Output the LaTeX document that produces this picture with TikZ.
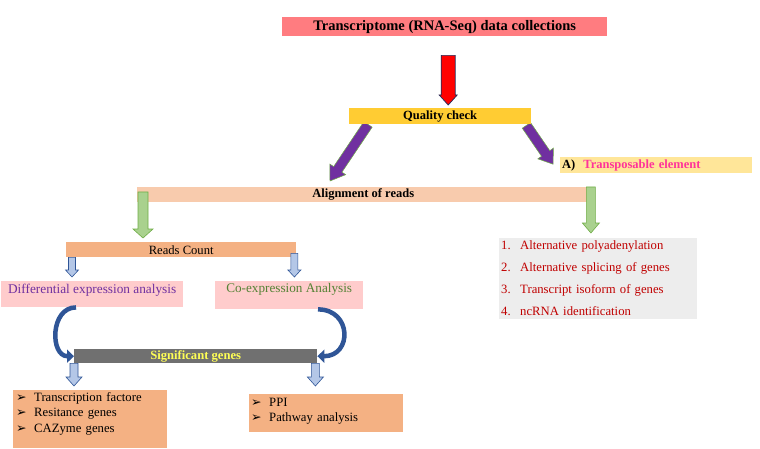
\documentclass[tikz,border=0pt]{standalone}
\usepackage{fontspec}
\setmainfont{Liberation Serif}
\newfontfamily\dingfont{DejaVu Sans}
\usetikzlibrary{arrows.meta,positioning,calc,backgrounds}

\definecolor{titlered}{HTML}{FF7C80}
\definecolor{qcyellow}{HTML}{FFCC33}
\definecolor{teyellow}{HTML}{FFE699}
\definecolor{tepink}{HTML}{FF3399}
\definecolor{alnpeach}{HTML}{F8CBAD}
\definecolor{rcorange}{HTML}{F4B183}
\definecolor{pinkbox}{HTML}{FFCCCC}
\definecolor{diffpurple}{HTML}{7030A0}
\definecolor{coexgreen}{HTML}{548235}
\definecolor{siggray}{HTML}{707070}
\definecolor{sigyellow}{HTML}{FFFF55}
\definecolor{listgray}{HTML}{EDEDED}
\definecolor{listred}{HTML}{C00000}
\definecolor{arrred}{HTML}{FF0000}
\definecolor{arrnavy}{HTML}{1F2D5A}
\definecolor{arrpurple}{HTML}{7030A0}
\definecolor{arrgreen}{HTML}{A9D18E}
\definecolor{arrgreendark}{HTML}{70AD47}
\definecolor{arrblue}{HTML}{B4C7E7}
\definecolor{arrbluedark}{HTML}{2F5597}
\definecolor{curveblue}{HTML}{2F5597}

\newcommand{\fsz}[2]{\fontsize{#1}{#2}\selectfont}
\newcommand{\bul}{{\dingfont\fsz{12.5}{12}➢}}
% block arrow: style, from, to, half shaft, half head, head length
\newcommand{\blockarr}[6]{%
  \coordinate (hb) at ($(#3)!#6!(#2)$);
  \filldraw[#1] ($(#2)!#4!90:(#3)$) -- ($(hb)!#4!90:(#3)$) -- ($(hb)!#5!90:(#3)$) -- (#3)
    -- ($(hb)!#5!-90:(#3)$) -- ($(hb)!#4!-90:(#3)$) -- ($(#2)!#4!-90:(#3)$) -- cycle;
}

\begin{document}
\begin{tikzpicture}[
  x=1pt, y=-1pt,
  >=Latex,
  box/.style={rectangle, inner sep=0pt, anchor=north west, align=center},
  listbox/.style={rectangle, anchor=north west, inner xsep=2pt, inner ysep=0pt, align=left},
  redarr/.style={fill=arrred, draw=arrnavy, line width=0.7pt},
  purplearr/.style={fill=arrpurple, draw=arrgreendark, line width=0.5pt},
  greenarr/.style={fill=arrgreen, draw=arrgreendark, line width=0.6pt},
  bluearr/.style={fill=arrblue, draw=arrbluedark, line width=0.6pt},
  curvearr/.style={draw=curveblue, line width=4.5pt, -{Triangle[length=7pt,width=13pt]}}
]

% Title
\node[box, fill=titlered, minimum width=325pt, minimum height=19pt,
  font=\bfseries\fsz{14.5}{16}] (title) at (282,17) {Transcriptome (RNA-Seq) data collections};

% Quality check
\node[box, fill=qcyellow, minimum width=182pt, minimum height=16pt,
  font=\bfseries\fsz{12.5}{14}] (qc) at (349,108) {Quality check};

% Transposable element
\node[box, fill=teyellow, text width=188pt, inner xsep=2pt, inner ysep=1.5pt,
  text height=10pt, text depth=3pt, align=left,
  font=\bfseries\fsz{12.5}{14}] (te) at (560,157) {A)\hspace{8pt}\textcolor{tepink}{Transposable element}};

% Alignment
\node[box, fill=alnpeach, minimum width=452pt, minimum height=15pt,
  font=\bfseries\fsz{12.5}{14}] (aln) at (137,187) {Alignment of reads};

% Reads count
\node[box, fill=rcorange, minimum width=230pt, minimum height=15pt,
  font=\fsz{12.6}{14}] (rc) at (66,242) {Reads Count};

% Expression analyses
\node[box, fill=pinkbox, minimum width=182pt, inner ysep=1pt, text height=11pt, text depth=13pt,
  font=\fsz{13.3}{15}, text=diffpurple] (diff) at (1,281) {Differential expression analysis};
\node[box, fill=pinkbox, minimum width=148pt, inner ysep=1pt, text height=10pt, text depth=16pt,
  font=\fsz{13.2}{15}, text=coexgreen] (coex) at (215,281) {Co-expression Analysis};

% Significant genes
\node[box, fill=siggray, minimum width=243pt, minimum height=14pt,
  font=\bfseries\fsz{12.6}{14}, text=sigyellow] (sig) at (74,349) {Significant genes};

% Lists
\node[listbox, fill=rcorange, inner xsep=3pt, text width=148pt, text height=11pt, text depth=47pt,
  font=\fsz{12.7}{15.5}] (tf) at (13,390) {%
  \makebox[18pt][l]{\bul}Transcription factore\\
  \makebox[18pt][l]{\bul}Resitance genes\\
  \makebox[18pt][l]{\bul}CAZyme genes};
\node[listbox, fill=rcorange, text width=150pt, text height=12pt, text depth=26pt,
  font=\fsz{12.7}{15}] (ppi) at (249,394) {%
  \makebox[18pt][l]{\bul}PPI\\
  \makebox[18pt][l]{\bul}Pathway analysis};
\node[listbox, fill=listgray, text=listred, text width=194pt, text height=11pt, text depth=70pt,
  font=\fsz{12.7}{22.2}] (iso) at (499,238) {%
  \makebox[19pt][l]{1.}Alternative polyadenylation\\
  \makebox[19pt][l]{2.}Alternative splicing of genes\\
  \makebox[19pt][l]{3.}Transcript isoform of genes\\
  \makebox[19pt][l]{4.}ncRNA identification};

% Arrow ends
\coordinate (r1) at ($(title.south)+(3.5,19)$);
\coordinate (r2) at ($(r1 |- qc.north)+(0,-3)$);
\coordinate (p1) at ($(qc.south west)+(19,0)$);
\coordinate (p2) at ($(aln.north west)+(193,-6)$);
\coordinate (p3) at ($(qc.south east)+(-5,1)$);
\coordinate (p4) at ($(te.west)+(-7,-1)$);
\coordinate (g1) at ($(aln.north west)+(6,5)$);
\coordinate (g2) at ($(g1 |- rc.north)+(0,-4)$);
\coordinate (g3) at ($(aln.north east)+(1.5,0)$);
\coordinate (g4) at ($(g3 |- iso.north)+(0,-5)$);
\coordinate (b1) at ($(rc.south west)+(6,0)$);
\coordinate (b2) at ($(b1 |- diff.north)+(0,-4)$);
\coordinate (b3) at ($(rc.south east)+(-2,-4)$);
\coordinate (b4) at ($(b3 |- coex.north)+(0,-4)$);
\coordinate (b5) at (sig.south west);
\coordinate (b6) at ($(b5 |- tf.north)+(0,-4)$);
\coordinate (b7) at ($(sig.south east)+(-2,0)$);
\coordinate (b8) at ($(b7 |- ppi.north)+(0,-8)$);
\coordinate (c1) at ($(diff.south west)+(75,0)$);
\coordinate (c2) at ($(coex.south west)+(103,0)$);

% Background and purple arrows
\begin{scope}[on background layer]
  \path[use as bounding box, fill=white] (0,0) rectangle (760,449);
  \blockarr{purplearr}{p1}{p2}{5pt}{9.5pt}{14pt}
  \blockarr{purplearr}{p3}{p4}{5pt}{9.5pt}{13pt}
\end{scope}

% Arrows
\blockarr{redarr}{r1}{r2}{7pt}{9pt}{10pt}
\blockarr{greenarr}{g1}{g2}{5pt}{10pt}{9pt}
\blockarr{greenarr}{g3}{g4}{4.5pt}{8.5pt}{10pt}
\blockarr{bluearr}{b1}{b2}{3.5pt}{6.5pt}{7pt}
\blockarr{bluearr}{b3}{b4}{3.5pt}{6.5pt}{7pt}
\blockarr{bluearr}{b5}{b6}{4pt}{8pt}{9pt}
\blockarr{bluearr}{b7}{b8}{4pt}{8pt}{9pt}

% Curved arrows
\draw[curvearr] (c1) .. controls +(-26,0) and +(-24,0) .. (sig.west);
\draw[curvearr] (c2) .. controls +(34,0) and +(35,0) .. (sig.east);

\end{tikzpicture}
\end{document}
